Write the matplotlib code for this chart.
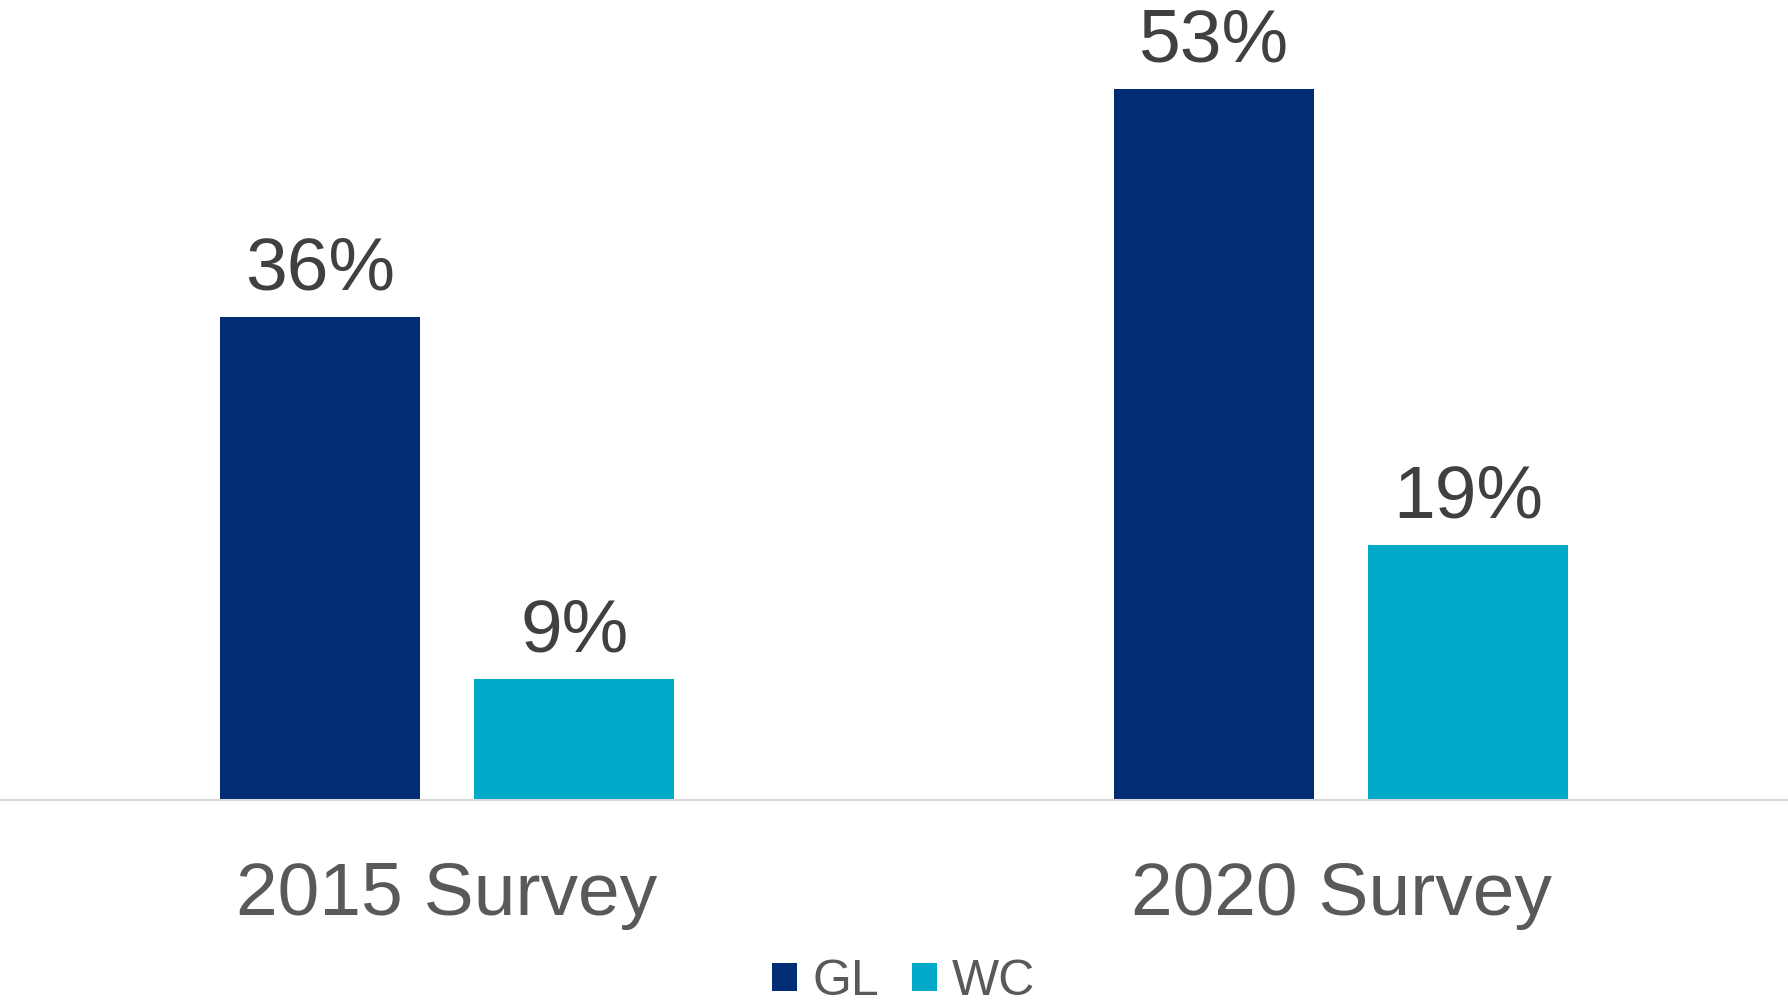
import matplotlib
matplotlib.use("Agg")
import matplotlib.pyplot as plt
from matplotlib.patches import Patch
import numpy as np

plt.rcParams['font.family'] = ['Liberation Sans', 'DejaVu Sans']

# survey results, percent
categories = ["2015 Survey", "2020 Survey"]
series_names = ["GL", "WC"]
gl_values = [36, 53]
wc_values = [9, 19]

gl_color = "#002D74"
wc_color = "#00A9C8"

fig = plt.figure(figsize=(17.88, 10.06), dpi=100)
ax = fig.add_axes([0, 0.2048, 1, 0.7952])

x = np.arange(len(categories))
width = 0.2235
offset = 0.1422

gl_bars = ax.bar(x - offset, gl_values, width, color=gl_color)
wc_bars = ax.bar(x + offset, wc_values, width, color=wc_color)

for bars in (gl_bars, wc_bars):
    ax.bar_label(bars, labels=[f"{v}%" for v in bars.datavalues], padding=9,
                 fontsize=54, color="#404040")

ax.set_xlim(-0.5, 1.5)
ax.set_ylim(0, 59.6)
ax.set_xticks(x)
ax.set_xticklabels(categories, fontsize=54, color="#595959")
ax.tick_params(axis='x', length=0, pad=44)
ax.set_yticks([])

for side in ["top", "right", "left"]:
    ax.spines[side].set_visible(False)
ax.spines["bottom"].set_color("#d9d9d9")
ax.spines["bottom"].set_linewidth(1.5)

handles = [Patch(facecolor=gl_color, label=series_names[0]),
           Patch(facecolor=wc_color, label=series_names[1])]
leg = fig.legend(handles=handles, loc='center', bbox_to_anchor=(0.5056, 0.024),
                 ncol=2, frameon=False, fontsize=36, handlelength=0.5, handleheight=0.5,
                 handletextpad=0.3, columnspacing=0.66, borderpad=0, borderaxespad=0)
for t in leg.get_texts():
    t.set_color("#595959")

fig.savefig("out.png", dpi=100)
